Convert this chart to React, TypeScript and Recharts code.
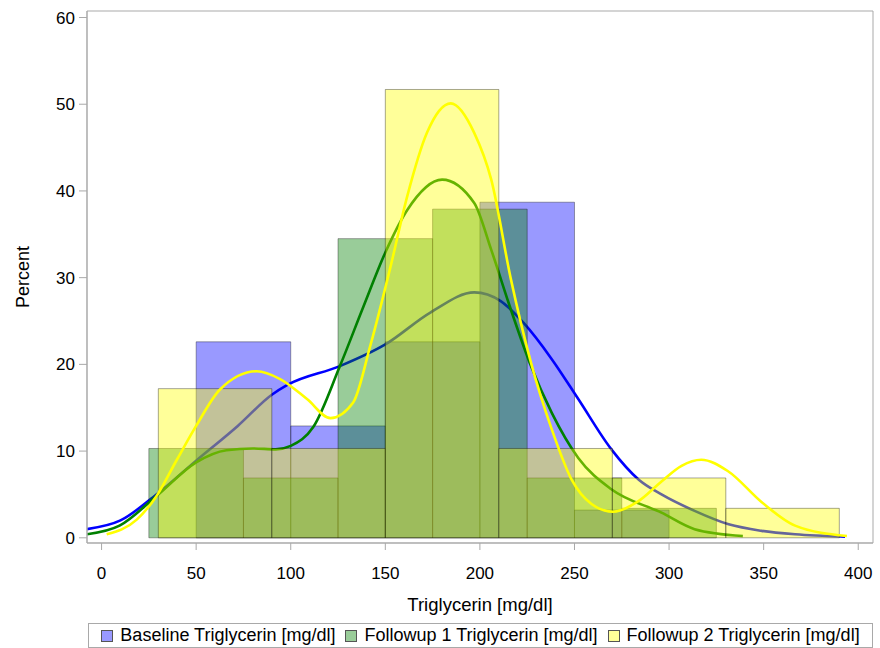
import { ComposedChart, Line, ReferenceArea, XAxis, YAxis } from 'recharts';

const FONT = '"Liberation Sans", Arial, Helvetica, sans-serif';

const X_DOMAIN: [number, number] = [-7.7, 407.8];
const Y_DOMAIN: [number, number] = [-0.6, 60.75];

const xTicks = [0, 50, 100, 150, 200, 250, 300, 350, 400];
const yTicks = [0, 10, 20, 30, 40, 50, 60];

// histogram bins (edges in mg/dl, percent per bin)
const baselineEdges = [50, 100, 150, 200, 250, 300];
const baselinePct = [22.6, 12.9, 22.6, 38.7, 3.2];
const followup1Edges = [25, 75, 125, 175, 225, 275, 325];
const followup1Pct = [10.3, 6.9, 34.5, 37.9, 6.9, 3.4];
const followup2Edges = [30, 90, 150, 210, 270, 330, 390];
const followup2Pct = [17.2, 10.3, 51.7, 10.3, 6.9, 3.4];

// kernel density estimates, scaled to percent
const baselineKdeX = [-7.7, 10, 29, 50, 72, 90, 98, 126, 150, 174, 197, 211, 223, 238, 252, 269.5, 284, 296, 313.5, 331.5, 349, 366.6, 393];
const baselineKdeY = [1.0, 2.0, 5.0, 8.9, 12.9, 16.5, 17.6, 19.8, 22.3, 26.0, 28.3, 27.3, 24.8, 20.6, 16.0, 10.2, 6.7, 5.0, 3.1, 1.55, 0.8, 0.4, 0.14];

const followup1KdeX = [-7.7, 9.5, 29, 50, 66, 80, 92, 100, 112, 126, 138.5, 150, 161.6, 180, 197, 206, 216.4, 227, 238, 252, 269.5, 296, 313.5, 339];
const followup1KdeY = [0.4, 1.4, 4.8, 8.7, 10.1, 10.3, 10.2, 10.6, 12.8, 19.8, 26.7, 32.9, 37.8, 41.3, 38.6, 33.2, 26.3, 19.8, 14.4, 9.2, 5.6, 2.9, 1.0, 0.2];

const followup2KdeX = [2.7, 18.6, 29, 39.8, 50, 62.6, 82, 94.4, 108.6, 121, 133, 142, 152.8, 161.6, 172, 184.6, 197, 206, 216.4, 227, 238, 248.5, 259, 270.4, 283.6, 296, 306.6, 317, 331, 349, 366.6, 394];
const followup2KdeY = [0.4, 2.1, 4.8, 9.0, 12.9, 17.1, 19.2, 18.3, 16.0, 13.8, 15.6, 22.1, 31.3, 39.4, 46.7, 50.1, 46.7, 41.3, 29.8, 20.2, 12.5, 6.7, 3.9, 3.0, 4.2, 6.5, 8.3, 9.0, 7.7, 4.1, 1.4, 0.2];

const series = [
  { name: 'Baseline Triglycerin [mg/dl]', color: '#0000ff', edges: baselineEdges, pct: baselinePct, kx: baselineKdeX, ky: baselineKdeY },
  { name: 'Followup 1 Triglycerin [mg/dl]', color: '#008000', edges: followup1Edges, pct: followup1Pct, kx: followup1KdeX, ky: followup1KdeY },
  { name: 'Followup 2 Triglycerin [mg/dl]', color: '#ffff00', edges: followup2Edges, pct: followup2Pct, kx: followup2KdeX, ky: followup2KdeY },
];

const zip = (xs: number[], ys: number[]) => xs.map((x, i) => ({ x, y: ys[i] }));

const FRAME = '#a9a9a9';

const PercentLabel = (props: any) => {
  const { viewBox } = props;
  const cx = viewBox.x + 23;
  const cy = viewBox.y + viewBox.height / 2;
  return (
    <text x={cx} y={cy} transform={`rotate(-90 ${cx} ${cy})`} textAnchor="middle" dominantBaseline="central" fontSize={18} fontFamily={FONT} fill="#000">
      Percent
    </text>
  );
};

export default function App() {
  // bars and curve of each series stacked in order, so later ones sit on top
  const layers = series.flatMap((s, si) => {
    const bars = s.pct.map((p, i) => (
      <ReferenceArea
        key={`bin-${si}-${i}`}
        x1={s.edges[i]}
        x2={s.edges[i + 1]}
        y1={0}
        y2={p}
        fill={s.color}
        fillOpacity={0.4}
        stroke="#000"
        strokeOpacity={0.35}
        strokeWidth={1}
        ifOverflow="visible"
        zIndex={10 + si * 2}
      />
    ));
    const curve = (
      <Line
        key={`kde-${si}`}
        data={zip(s.kx, s.ky)}
        dataKey="y"
        type="monotone"
        stroke={s.color}
        strokeWidth={2.6}
        dot={false}
        activeDot={false}
        isAnimationActive={false}
        zIndex={11 + si * 2}
      />
    );
    return [...bars, curve];
  });

  return (
    <div style={{ position: 'absolute', left: 0, top: 0, width: 880, height: 648, background: '#fff' }}>
      <ComposedChart width={880} height={622} margin={{ top: 11, right: 7, bottom: 0, left: 0 }}>
        <XAxis
          dataKey="x"
          type="number"
          domain={X_DOMAIN}
          ticks={xTicks}
          allowDataOverflow
          height={79}
          tickSize={7}
          tickMargin={17}
          axisLine={{ stroke: FRAME }}
          tickLine={{ stroke: FRAME }}
          tick={{ fill: '#000', fontSize: 17, fontFamily: FONT }}
          label={{ value: 'Triglycerin [mg/dl]', position: 'insideBottom', offset: 11, fill: '#000', fontSize: 18.5, fontFamily: FONT }}
        />
        <YAxis
          type="number"
          domain={Y_DOMAIN}
          ticks={yTicks}
          allowDataOverflow
          width={87}
          tickSize={8}
          tickMargin={4}
          axisLine={{ stroke: FRAME }}
          tickLine={{ stroke: FRAME }}
          tick={{ fill: '#000', fontSize: 17, fontFamily: FONT }}
          label={<PercentLabel />}
        />
        {layers}
        <ReferenceArea
          x1={X_DOMAIN[0]}
          x2={X_DOMAIN[1]}
          y1={Y_DOMAIN[0]}
          y2={Y_DOMAIN[1]}
          fill="none"
          stroke={FRAME}
          strokeWidth={1}
          ifOverflow="visible"
          zIndex={600}
        />
      </ComposedChart>
      <div
        style={{
          position: 'absolute',
          left: 88,
          top: 623,
          width: 785,
          height: 25,
          border: `1px solid ${FRAME}`,
          boxSizing: 'border-box',
          display: 'flex',
          alignItems: 'center',
          justifyContent: 'center',
          fontFamily: FONT,
          fontSize: 18,
          color: '#000',
          whiteSpace: 'nowrap',
        }}
      >
        {series.map((s, i) => (
          <div key={s.name} style={{ display: 'flex', alignItems: 'center', marginLeft: i === 0 ? 0 : 10 }}>
            <span
              style={{
                display: 'inline-block',
                width: 12,
                height: 12,
                boxSizing: 'border-box',
                border: '1px solid #555',
                background: s.color,
                marginRight: 7,
                boxShadow: 'inset 0 0 0 20px rgba(255,255,255,0.6)',
              }}
            />
            <span>{s.name}</span>
          </div>
        ))}
      </div>
    </div>
  );
}
